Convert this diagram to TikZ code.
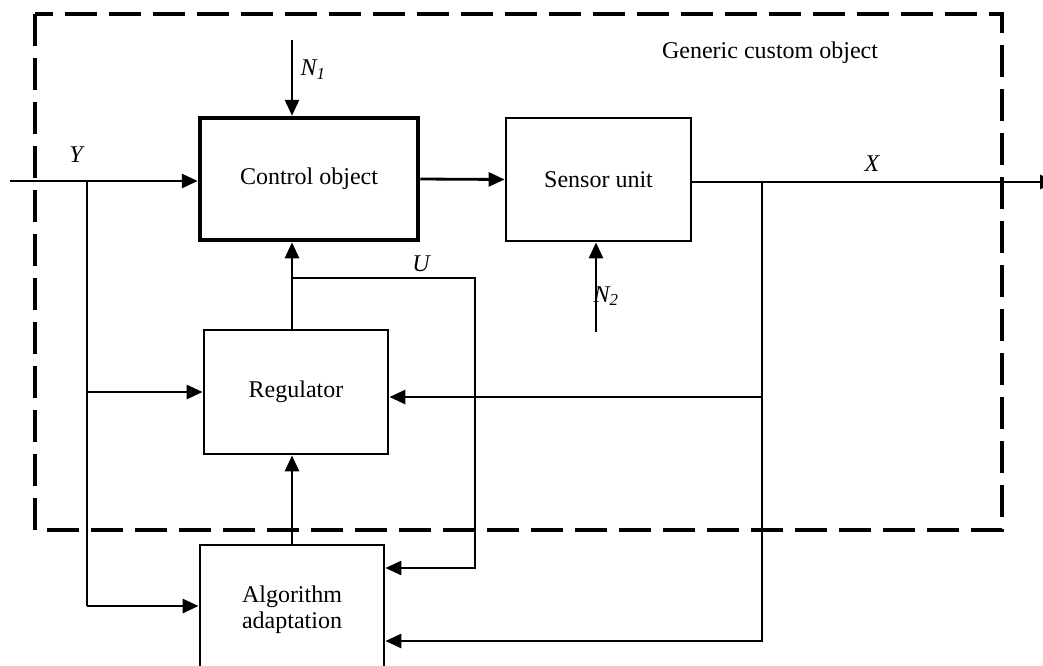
\documentclass[tikz,border=0pt]{standalone}
\usepackage{fontspec}
\setmainfont{Liberation Serif}
\usetikzlibrary{arrows.meta,positioning,calc}
\tikzset{
  boxln/.style={draw, line width=2.8pt, minimum width=184pt, minimum height=123pt,
    font=\fontsize{24}{26}\selectfont, align=center, inner sep=0pt},
  thickbox/.style={boxln, line width=4.5pt},
  connln/.style={-{Triangle[length=16pt,width=14pt]}, line width=2.8pt},
  plainln/.style={line width=2.8pt},
  frameln/.style={dash pattern=on 32pt off 12pt, line width=4pt},
  lbl/.style={font=\fontsize{24}{26}\selectfont\itshape, inner sep=0pt},
}

\begin{document}
\begin{tikzpicture}[x=1pt,y=-1pt]
    \useasboundingbox (0,0) rectangle (1043,665);
    \clip (0,0) rectangle (1043,665);
    % generic custom object frame
    \draw[frameln] (35,14) rectangle (1002,530);
    \node[font=\fontsize{24}{26}\selectfont] (title) at (770,53) {Generic custom object};
    % blocks
    \node[thickbox, minimum width=218pt, minimum height=122pt] (ctrl) at (309,179) {Control object};
    \node[boxln, minimum width=185pt] (sens) at (598.5,179.5) {Sensor unit};
    \node[boxln, minimum height=124pt] (reg) at (296,392) {Regulator};
    \node[boxln, minimum height=130pt] (adapt) at (292,610) {Algorithm\\adaptation};
    % branch points and free ends
    \coordinate (yin) at (10,181);
    \coordinate (ybr) at (87,181);
    \coordinate (n1) at (292,40);
    \coordinate (n2) at (596,332);
    \coordinate (xbr) at (762,182);
    \coordinate (xout) at (1056,182);
    \coordinate (ubr) at (292,278);
    \coordinate (uend) at (475,278);
    \coordinate (regin) at ([yshift=-5pt]reg.east);
    \coordinate (adaptu) at ([yshift=42pt]adapt.east);
    \coordinate (adaptx) at ([yshift=-31pt]adapt.east);
    \coordinate (adapty) at ([yshift=4pt]adapt.west);
    % input Y
    \draw[connln] (yin) -- (yin -| ctrl.west);
    \draw[plainln] (ybr) -- (ybr |- adapty);
    \draw[connln] (ybr |- reg.west) -- (reg.west);
    \draw[connln] (ybr |- adapty) -- (adapty);
    % disturbances
    \draw[connln] (n1) -- (n1 |- ctrl.north);
    \draw[connln] (n2) -- (n2 |- sens.south);
    % forward path
    \draw[connln] (ctrl.east) -- (sens.west);
    \draw[connln] (sens.east |- xout) -- (xout);
    \draw[connln] (adapt.north -| ubr) -- (reg.south -| ubr);
    \draw[connln] (reg.north -| ubr) -- (ctrl.south -| ubr);
    % control U to adaptation
    \draw[connln] (ubr) -- (uend) |- (adaptu);
    % feedback X
    \draw[connln] (xbr) |- (adaptx);
    \draw[connln] (xbr |- regin) -- (regin);
    % signal labels
    \node[lbl] (ly) at (76,155) {Y};
    \node[lbl] (lx) at (872,164) {X};
    \node[lbl] (lu) at (421,264) {U};
    \node[lbl] (ln1) at (313,70) {N\textsubscript{1}};
    \node[lbl] (ln2) at (606,296) {N\textsubscript{2}};
  \end{tikzpicture}
\end{document}
